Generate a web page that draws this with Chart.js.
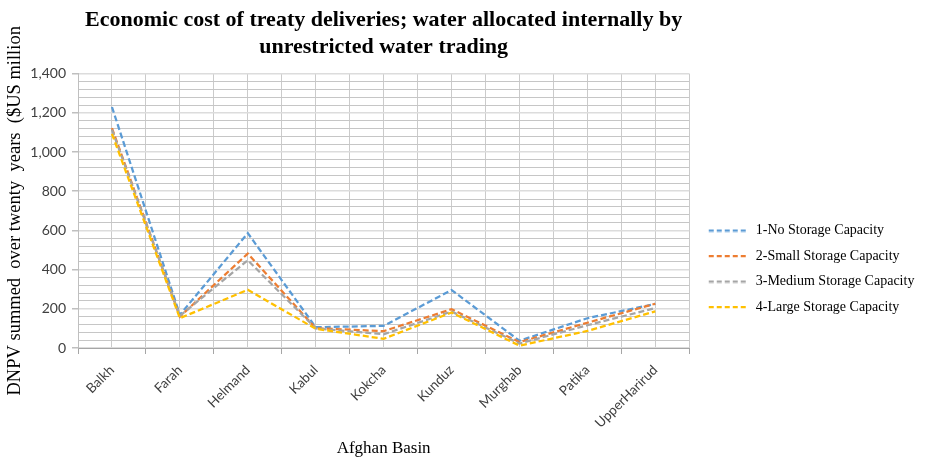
<!DOCTYPE html>
<html>
<head>
<meta charset="utf-8">
<script src="https://cdn.jsdelivr.net/npm/chart.js@4/dist/chart.umd.min.js"></script>
<style>
  html, body { margin: 0; padding: 0; background: #fff; }
  #wrap { width: 934px; height: 457px; position: relative; }
</style>
</head>
<body>
<div id="wrap"><canvas id="c"></canvas></div>
<script>
const categories = ["Balkh", "Farah", "Helmand", "Kabul", "Kokcha", "Kunduz", "Murghab", "Patika", "UpperHarirud"];
const noStorage     = [1230, 169, 586, 106, 113, 296, 37, 152, 225];
const smallStorage  = [1122, 160, 482, 101, 86, 198, 30, 129, 226];
const mediumStorage = [1114, 164, 448, 100, 70, 186, 23, 116, 204];
const largeStorage  = [1093, 152, 297, 98, 47, 181, 12, 87, 187];
const seriesNames = ["1-No Storage Capacity", "2-Small Storage Capacity", "3-Medium Storage Capacity", "4-Large Storage Capacity"];
const yMajorTicks = [0, 200, 400, 600, 800, 1000, 1200, 1400];

const colors = ["#5B9BD5", "#ED7D31", "#A5A5A5", "#FFC000"];
const allSeries = [noStorage, smallStorage, mediumStorage, largeStorage];

// dashed legend sample images
function dashSample(color) {
  const c = document.createElement('canvas');
  c.width = 48; c.height = 4;
  const g = c.getContext('2d');
  g.strokeStyle = color;
  g.lineWidth = 2.25;
  g.setLineDash([5, 3]);
  g.beginPath();
  g.moveTo(8, 2);
  g.lineTo(48, 2);
  g.stroke();
  return c;
}
const legendImages = colors.map(dashSample);

const datasets = allSeries.map((vals, k) => ({
  label: seriesNames[k],
  data: vals.map((v, i) => ({ x: i, y: v })),
  borderColor: colors[k],
  backgroundColor: colors[k],
  borderWidth: 2.25,
  borderDash: [6, 3],
  pointRadius: 0,
  pointHoverRadius: 0,
  fill: false,
  tension: 0,
  order: 3 - k
}));

const serif = "'Liberation Serif', 'Times New Roman', serif";
const sans = "Lato, 'Open Sans', sans-serif";

new Chart(document.getElementById('c'), {
  type: 'line',
  data: { datasets },
  options: {
    responsive: true,
    maintainAspectRatio: false,
    animation: false,
    layout: { padding: { left: 0, right: 15, top: 0, bottom: 0 } },
    plugins: {
      tooltip: { enabled: false },
      title: {
        display: true,
        fullSize: false,
        text: ["Economic cost of treaty deliveries; water allocated internally by", "unrestricted water trading"],
        font: { family: serif, size: 22, weight: 'bold', lineHeight: 1.22 },
        color: '#000',
        padding: { top: 7, bottom: 13 }
      },
      legend: {
        position: 'right',
        align: 'start',
        title: { display: true, text: ' ', padding: { top: 200, bottom: 0 }, font: { size: 10 } },
        labels: {
          usePointStyle: true,
          pointStyleWidth: 48,
          boxHeight: 14,
          padding: 11.5,
          color: '#000',
          font: { family: serif, size: 14 },
          sort: (a, b) => a.datasetIndex - b.datasetIndex,
          generateLabels: (chart) => {
            const items = Chart.defaults.plugins.legend.labels.generateLabels(chart);
            items.forEach(it => { it.pointStyle = legendImages[it.datasetIndex]; });
            return items;
          }
        }
      }
    },
    scales: {
      x: {
        type: 'linear',
        min: -0.5,
        max: 8.5,
        afterFit: (s) => { s.height = 109; },
        afterBuildTicks: (s) => {
          const t = [];
          for (let k = 0; k <= 18; k++) t.push({ value: -0.5 + k * 0.5 });
          s.ticks = t;
        },
        ticks: {
          autoSkip: false,
          minRotation: 45,
          maxRotation: 45,
          padding: 8,
          color: '#404040',
          font: { family: sans, size: 13.5 },
          callback: (v) => Number.isInteger(v) ? categories[v] : ''
        },
        grid: {
          color: '#cbcbcb',
          lineWidth: 1,
          tickLength: 6,
          tickColor: (ctx) => (ctx.tick && !Number.isInteger(ctx.tick.value)) ? '#a6a6a6' : 'rgba(0,0,0,0)'
        },
        border: { color: '#a6a6a6', width: 1 },
        title: {
          display: true,
          text: 'Afghan Basin',
          color: '#000',
          font: { family: serif, size: 17 },
          padding: { top: 0, bottom: -2 }
        }
      },
      y: {
        min: 0,
        max: 1400,
        afterFit: (s) => { s.width = 78; },
        afterBuildTicks: (s) => {
          const t = [];
          for (let v = 0; v <= 1400; v += 40) t.push({ value: v });
          s.ticks = t;
        },
        ticks: {
          autoSkip: false,
          padding: 6,
          color: '#404040',
          font: { family: sans, size: 14 },
          callback: (v) => yMajorTicks.includes(v) ? v.toLocaleString('en-US') : ''
        },
        grid: {
          color: (ctx) => (ctx.tick && yMajorTicks.includes(ctx.tick.value)) ? '#dcdcdc' : '#c6c6c6',
          lineWidth: (ctx) => (ctx.tick && yMajorTicks.includes(ctx.tick.value)) ? 1.5 : 1,
          tickLength: 6,
          tickColor: (ctx) => (ctx.tick && yMajorTicks.includes(ctx.tick.value)) ? '#bfbfbf' : 'rgba(0,0,0,0)'
        },
        border: { color: '#bfbfbf', width: 1 },
        title: {
          display: true,
          text: 'DNPV summed  over twenty  years  ($US million',
          color: '#000',
          font: { family: serif, size: 18.5 },
          padding: { top: 4, bottom: 0 }
        }
      }
    }
  }
});
</script>
</body>
</html>
